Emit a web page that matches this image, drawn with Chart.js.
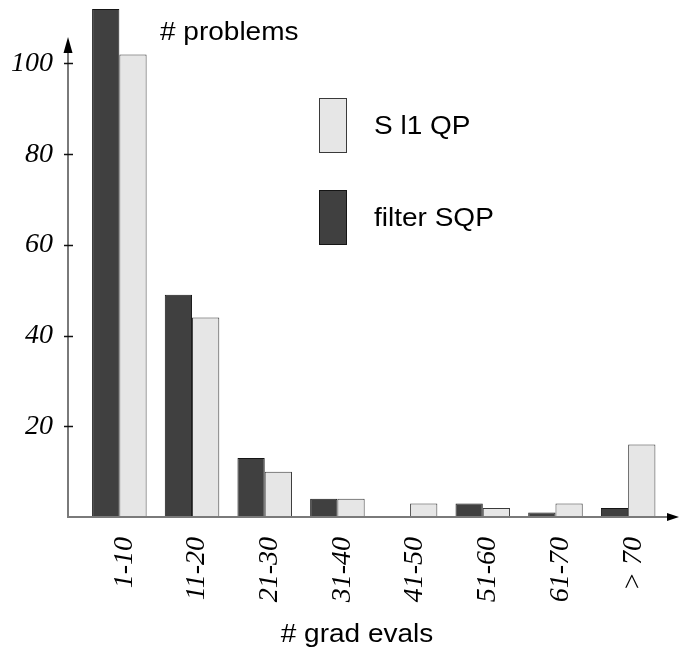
<!DOCTYPE html>
<html>
<head>
<meta charset="utf-8">
<script src="https://cdn.jsdelivr.net/npm/chart.js@4/dist/chart.umd.min.js"></script>
<style>
  html, body { margin: 0; padding: 0; background: #fff; }
</style>
</head>
<body>
<canvas id="gradChart" width="679" height="653"></canvas>
<script>
// grad evaluation bins and problem counts per solver
const bins = ["1-10", "11-20", "21-30", "31-40", "41-50", "51-60", "61-70", "> 70"];
const filterSQP = [112, 49, 13, 4, 0, 3, 1, 2];
const sl1QP = [102, 44, 10, 4, 3, 2, 3, 16];
const yTickValues = [20, 40, 60, 80, 100];

const serifItalic = { family: "'Liberation Serif', 'DejaVu Serif', serif", style: "italic", size: 28 };
const sansFont = "25px 'Liberation Sans', Arial, sans-serif";

// text drawn a little wider than the font's natural width
function wideText(ctx, text, x, y, align) {
    ctx.save();
    ctx.font = sansFont;
    ctx.textBaseline = "alphabetic";
    const w = ctx.measureText(text).width * 1.12;
    let left = x;
    if (align === "center") left = x - w / 2;
    ctx.translate(left, y);
    ctx.scale(1.12, 1);
    ctx.textAlign = "left";
    ctx.fillText(text, 0, 0);
    ctx.restore();
}

// axis lines with arrow heads, tick marks, titles and the legend boxes
const decorations = {
    id: "decorations",
    afterDraw(chart) {
        const ctx = chart.ctx;
        const yScale = chart.scales.y;
        const base = yScale.getPixelForValue(0);
        const axisX = 68;

        ctx.save();
        ctx.strokeStyle = "#7a7a7a";
        ctx.lineWidth = 2;
        ctx.beginPath();
        ctx.moveTo(axisX, base);
        ctx.lineTo(axisX, 52);
        ctx.moveTo(axisX - 1, base);
        ctx.lineTo(670, base);
        ctx.stroke();

        ctx.fillStyle = "#000";
        ctx.beginPath();
        ctx.moveTo(axisX, 37);
        ctx.lineTo(axisX - 4.5, 53);
        ctx.lineTo(axisX + 4.5, 53);
        ctx.closePath();
        ctx.fill();

        ctx.beginPath();
        ctx.moveTo(679, base);
        ctx.lineTo(667, base - 4);
        ctx.lineTo(667, base + 4);
        ctx.closePath();
        ctx.fill();

        ctx.strokeStyle = "#111";
        ctx.lineWidth = 1.3;
        ctx.beginPath();
        yTickValues.forEach(v => {
            const py = Math.round(yScale.getPixelForValue(v)) + 0.5;
            ctx.moveTo(axisX - 4, py);
            ctx.lineTo(axisX + 5, py);
        });
        ctx.stroke();

        ctx.fillStyle = "#000";
        wideText(ctx, "# problems", 160, 40, "left");
        wideText(ctx, "# grad evals", 357, 642, "center");

        // legend, listed in reverse dataset order
        const sets = chart.data.datasets.slice().reverse();
        sets.forEach((ds, i) => {
            const top = 98 + i * 92;
            ctx.fillStyle = ds.backgroundColor;
            ctx.fillRect(319, top, 28, 55);
            ctx.strokeStyle = ds.borderColor;
            ctx.lineWidth = 1;
            ctx.strokeRect(319.5, top + 0.5, 27, 54);
            ctx.fillStyle = "#000";
            wideText(ctx, ds.label, 374, top + 36, "left");
        });
        ctx.restore();
    }
};

new Chart(document.getElementById("gradChart"), {
    type: "bar",
    data: {
        labels: bins,
        datasets: [
            {
                label: "filter SQP",
                data: filterSQP,
                backgroundColor: "#404040",
                borderColor: "#151515",
                borderWidth: 1,
                borderSkipped: false,
            },
            {
                label: "S l1 QP",
                data: sl1QP,
                backgroundColor: "#e6e6e6",
                borderColor: "#3a3a3a",
                borderWidth: 1,
                borderSkipped: false,
            },
        ],
    },
    options: {
        responsive: false,
        animation: false,
        devicePixelRatio: 1,
        layout: { padding: { left: 0, right: 14.5, top: 0, bottom: 0 } },
        datasets: {
            bar: { categoryPercentage: 0.75, barPercentage: 1.0 },
        },
        plugins: {
            legend: { display: false },
            tooltip: { enabled: false },
        },
        scales: {
            x: {
                offset: true,
                grid: { display: false, drawTicks: false },
                border: { display: false },
                ticks: {
                    color: "#000",
                    font: serifItalic,
                    minRotation: 90,
                    maxRotation: 90,
                    autoSkip: false,
                    padding: 20,
                    labelOffset: 5,
                },
                afterFit(s) {
                    s.height = 136;
                    s.paddingLeft = 0;
                    s.paddingRight = 0;
                },
            },
            y: {
                min: 0,
                max: 114,
                grid: { display: false, drawTicks: false },
                border: { display: false },
                ticks: {
                    stepSize: 20,
                    includeBounds: false,
                    color: "#000",
                    font: serifItalic,
                    padding: 30,
                    callback: v => (v > 0 && v <= 100 ? v : ""),
                },
                afterFit(s) {
                    s.width = 83;
                    s.paddingTop = 0;
                    s.paddingBottom = 0;
                },
            },
        },
    },
    plugins: [decorations],
});
</script>
</body>
</html>
